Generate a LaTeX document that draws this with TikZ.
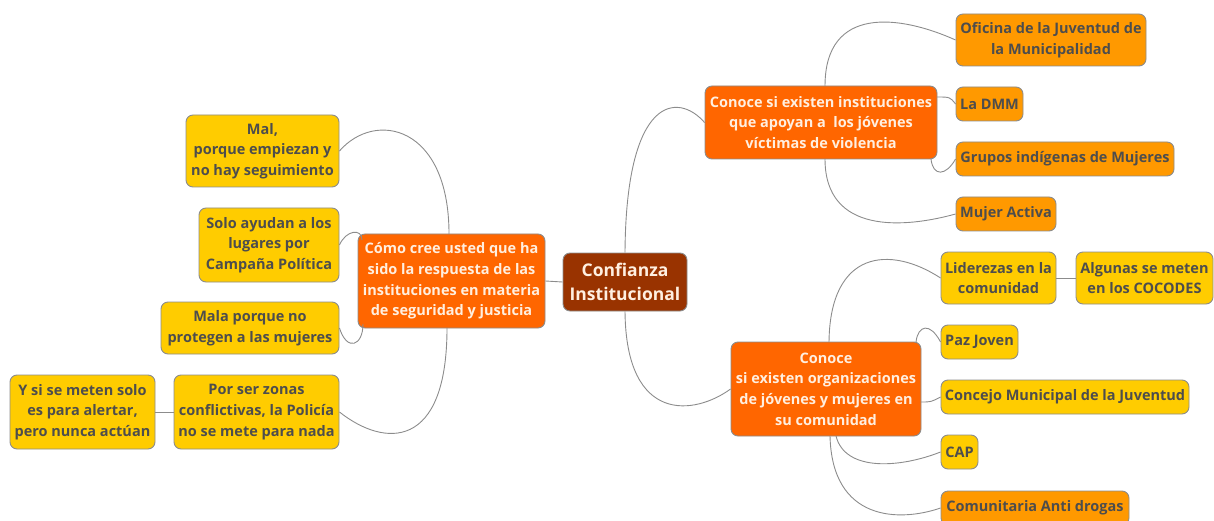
\documentclass[tikz,border=0pt]{standalone}
\usepackage{fontspec}
\setmainfont{Open Sans}
\definecolor{cCenter}{HTML}{993300}
\definecolor{cMain}{HTML}{FF6600}
\definecolor{cYel}{HTML}{FFCC00}
\definecolor{cOra}{HTML}{FF9900}
\definecolor{cTxt}{HTML}{4D4D4D}
\definecolor{cLine}{HTML}{8C8C8C}
\definecolor{cLight}{HTML}{FFEFE0}
\begin{document}
\begin{tikzpicture}[x=1pt,y=-1pt,
  box/.style={draw=cLine, line width=0.9pt, rounded corners=7pt, inner sep=0pt, align=center,
    font=\fontsize{14.5}{20.7}\selectfont\bfseries},
  centerbox/.style={box, fill=cCenter, text=cLight, font=\fontsize{17.5}{23.5}\selectfont\bfseries},
  mainbox/.style={box, fill=cMain, text=cLight},
  leafY/.style={box, fill=cYel, text=cTxt},
  leafO/.style={box, fill=cOra, text=cTxt},
  link/.style={draw=cLine, line width=0.9pt}
]
\useasboundingbox (0,0) rectangle (1214,521);
\clip (0,0) rectangle (1214,521);

\node[centerbox, minimum width=124, minimum height=58] (C) at (625,282) {Confianza\\Institucional};

\node[mainbox, minimum width=187, minimum height=94] (L) at (451.5,281) {Cómo cree usted que ha\\sido la respuesta de las\\instituciones en materia\\de seguridad y justicia};
\node[leafY, minimum width=153, minimum height=72] (mal) at (262.5,151) {Mal,\\porque empiezan y\\no hay seguimiento};
\node[leafY, minimum width=140, minimum height=74] (solo) at (269,245) {Solo ayudan a los\\lugares por\\Campaña Política};
\node[leafY, minimum width=178, minimum height=52] (mala) at (250,328) {Mala porque no\\protegen a las mujeres};
\node[leafY, minimum width=165, minimum height=74] (por) at (256.5,412) {Por ser zonas\\conflictivas, la Policía\\no se mete para nada};
\node[leafY, minimum width=145, minimum height=74] (ysi) at (82.5,412) {Y si se meten solo\\es para alertar,\\pero nunca actúan};

\node[mainbox, minimum width=232, minimum height=73] (RT) at (821,122.5) {Conoce si existen instituciones\\que apoyan a\ \ los jóvenes\\víctimas de violencia};
\node[leafO, minimum width=190, minimum height=52] (ofi) at (1051,40) {Oficina de la Juventud de\\la Municipalidad};
\node[leafO, minimum width=67, minimum height=34] (dmm) at (989.5,104) {La DMM};
\node[leafO, minimum width=218, minimum height=34] (gru) at (1065,159) {Grupos indígenas de Mujeres};
\node[leafO, minimum width=100, minimum height=34] (muj) at (1006,214) {Mujer Activa};

\node[mainbox, minimum width=190, minimum height=94] (RB) at (826,389) {Conoce\\si existen organizaciones\\de jóvenes y mujeres en\\su comunidad};
\node[leafY, minimum width=115, minimum height=52] (lid) at (998.5,278) {Liderezas en la\\comunidad};
\node[leafY, minimum width=137, minimum height=52] (alg) at (1144.5,278) {Algunas se meten\\en los COCODES};
\node[leafY, minimum width=77, minimum height=34] (paz) at (979.5,342) {Paz Joven};
\node[leafY, minimum width=248, minimum height=34] (con) at (1065,397) {Concejo Municipal de la Juventud};
\node[leafY, minimum width=37, minimum height=34] (cap) at (959.5,452) {CAP};
\node[leafO, minimum width=188, minimum height=34] (com) at (1035,508) {Comunitaria Anti drogas};

% center links
\draw[link] (C.west) -- (L.east);
\draw[link] (C.north) .. controls (626,95) and (678,92) .. (RT.west);
\draw[link] (C.south) .. controls (626,425) and (695,415) .. (RB.west);

% left links
\coordinate (Lt) at (449,234);
\coordinate (Lb) at (447,328);
\coordinate (Ltl) at (362,240);
\coordinate (Lbl) at (363,324);
\draw[link] (Lt) .. controls (449,125) and (375,110) .. (mal.east);
\draw[link] (solo.east) .. controls (346,230) and (362,228) .. (Ltl);
\draw[link] (mala.east) .. controls (347,352) and (363,346) .. (Lbl);
\draw[link] (por.east) .. controls (385,448) and (447,450) .. (Lb);
\draw[link] (por.west) -- (ysi.east);

% right top links
\coordinate (RTt) at (825,86);
\coordinate (RTb) at (825,159);
\coordinate (RTr) at (937,97);
\coordinate (RTbr) at (931,159);
\draw[link] (RTt) .. controls (825,5) and (900,15) .. (ofi.west);
\draw[link] (RTr) .. controls (950,97) .. (dmm.west);
\draw[link] (RTbr) .. controls (933,177) and (946,176) .. (gru.west);
\draw[link] (RTb) .. controls (825,235) and (905,228) .. (muj.west);

% right bottom links
\coordinate (RBt) at (829,342);
\coordinate (RBtr) at (916,342);
\coordinate (RBr) at (921,402);
\coordinate (RBb1) at (836,436);
\coordinate (RBb2) at (830,436);
\draw[link] (RBt) .. controls (830,250) and (890,245) .. (lid.west);
\draw[link] (RBtr) .. controls (918,325) and (930,322) .. (paz.west);
\draw[link] (RBr) .. controls (931,402) .. (con.west);
\draw[link] (RBb1) .. controls (845,472) and (900,468) .. (cap.west);
\draw[link] (RBb2) .. controls (832,522) and (900,522) .. (com.west);
\draw[link] (lid.east) -- (alg.west);
\end{tikzpicture}
\end{document}
